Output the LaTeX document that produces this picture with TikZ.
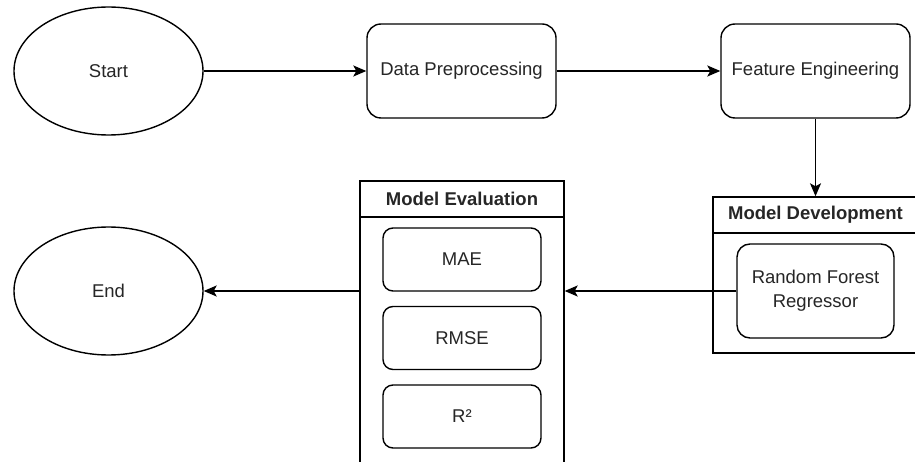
\documentclass[tikz,border=0pt]{standalone}
\usepackage{fontspec}
\setmainfont{Liberation Sans}
\usetikzlibrary{shapes.geometric,arrows.meta}
\tikzset{
  base/.style={draw=black, line width=1.4pt, font=\fontsize{18.5}{22}\selectfont, text=black!85, align=center, inner sep=0pt},
  term/.style={base, ellipse, minimum width=189pt, minimum height=128pt},
  proc/.style={base, rectangle, rounded corners=14pt, minimum width=189pt, minimum height=94pt},
  item/.style={base, rectangle, rounded corners=10pt, minimum width=158pt, minimum height=63pt},
  cont/.style={draw=black, line width=1.4pt, rectangle, inner sep=0pt},
  title/.style={font=\bfseries\fontsize{18.5}{22}\selectfont, text=black!85, inner sep=0pt},
  conn/.style={draw=black, line width=1.5pt, -{Stealth[length=13pt,width=11pt,inset=3pt]}}
}
\begin{document}
\begin{tikzpicture}[x=1pt,y=-1pt]
\useasboundingbox (0,0) rectangle (915,462);
\clip (0,0) rectangle (915,462);
\fill[white] (0,0) rectangle (915,462);
% terminals
\node[term] (start) at (108.5,71) {Start};
\node[term] (end) at (108.5,291) {End};
% process boxes
\node[proc] (dp) at (461.5,71) {Data Preprocessing};
\node[proc] (fe) at (815.5,71) {Feature Engineering};
% Model Development container
\node[cont, minimum width=205pt, minimum height=156pt] (md) at (815.5,275) {};
\draw[line width=1.4pt] (713,233) -- (918,233);
\node[title] (mdt) at (815.5,215) {Model Development};
\node[base, rectangle, rounded corners=13pt, minimum width=157pt, minimum height=94pt, font=\fontsize{18.5}{24}\selectfont] (rf) at (815.5,291) {Random Forest\\Regressor};
% Model Evaluation container
\node[cont, minimum width=204pt, minimum height=291pt] (me) at (462,326.5) {};
\draw[line width=1.4pt] (360,217) -- (564,217);
\node[title] (met) at (462,199) {Model Evaluation};
\node[item] (mae) at (462,259.5) {MAE};
\node[item] (rmse) at (462,338) {RMSE};
\node[item] (r2) at (462,416.5) {R²};
% connectors
\draw[conn] (start.east) -- (dp.west);
\draw[conn] (dp.east) -- (fe.west);
\draw[conn] (fe.south) -- (md.north);
\draw[conn] (rf.west) -- (rf.west -| me.east);
\draw[conn] (end.east -| me.west) -- (end.east);
\end{tikzpicture}
\end{document}
